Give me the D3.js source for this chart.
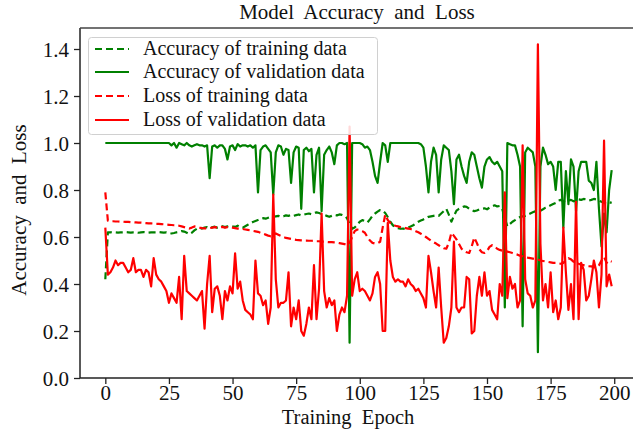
<!DOCTYPE html>
<html>
<head>
<meta charset="utf-8">
<script src="https://cdn.jsdelivr.net/npm/d3@7"></script>
<style>
    body { margin: 0; background: #ffffff; }
    svg text { font-family: "Liberation Serif", "Times New Roman", serif; white-space: pre; fill: #111; }
</style>
</head>
<body>
<svg id="chartPlot" width="633" height="430"></svg>
<script>
// values, one per epoch (0 .. 199)
const train_acc = [
    0.42, 0.62, 0.62, 0.621, 0.62, 0.619, 0.62, 0.62, 0.621, 0.62,
    0.619, 0.62, 0.62, 0.618, 0.62, 0.621, 0.62, 0.619, 0.62, 0.62,
    0.62, 0.621, 0.62, 0.619, 0.62, 0.617, 0.615, 0.617, 0.62, 0.622,
    0.625, 0.623, 0.618, 0.612, 0.618, 0.628, 0.635, 0.638, 0.636, 0.64,
    0.642, 0.638, 0.641, 0.644, 0.64, 0.643, 0.646, 0.642, 0.645, 0.648,
    0.645, 0.643, 0.648, 0.641, 0.64, 0.646, 0.652, 0.658, 0.664, 0.668,
    0.672, 0.676, 0.68, 0.678, 0.682, 0.686, 0.684, 0.688, 0.69, 0.686,
    0.688, 0.692, 0.69, 0.694, 0.69, 0.693, 0.696, 0.692, 0.695, 0.698,
    0.7, 0.697, 0.702, 0.705, 0.702, 0.698, 0.694, 0.69, 0.686, 0.69,
    0.694, 0.692, 0.696, 0.694, 0.69, 0.68, 0.655, 0.635, 0.64, 0.652,
    0.665, 0.672, 0.668, 0.662, 0.675, 0.69, 0.7, 0.708, 0.715, 0.712,
    0.702, 0.685, 0.665, 0.65, 0.642, 0.638, 0.635, 0.636, 0.634, 0.64,
    0.645, 0.65, 0.658, 0.665, 0.67, 0.675, 0.68, 0.686, 0.688, 0.69,
    0.692, 0.69, 0.7, 0.71, 0.72, 0.695, 0.665, 0.69, 0.712, 0.72,
    0.725, 0.73, 0.728, 0.72, 0.715, 0.71, 0.713, 0.718, 0.72, 0.722,
    0.718, 0.725, 0.73, 0.735, 0.73, 0.732, 0.72, 0.68, 0.645, 0.655,
    0.665, 0.672, 0.68, 0.685, 0.688, 0.69, 0.695, 0.7, 0.705, 0.71,
    0.708, 0.712, 0.718, 0.725, 0.73, 0.735, 0.74, 0.745, 0.755, 0.758,
    0.752, 0.748, 0.755, 0.758, 0.752, 0.756, 0.76, 0.758, 0.762, 0.76,
    0.755, 0.758, 0.762, 0.76, 0.755, 0.75, 0.745, 0.742, 0.748, 0.745
];
const val_acc = [
    1, 1, 1, 1, 1, 1, 1, 1, 1, 1,
    1, 1, 1, 1, 1, 1, 1, 1, 1, 1,
    1, 1, 1, 1, 1, 1, 0.99, 1, 0.98, 1,
    0.995, 0.99, 1, 0.99, 0.985, 0.99, 0.995, 0.99, 0.99, 0.985,
    0.99, 0.85, 0.985, 0.99, 0.98, 0.99, 0.99, 0.975, 0.93, 0.985,
    0.99, 0.97, 0.995, 0.985, 0.99, 0.99, 0.985, 0.99, 0.98, 0.99,
    0.79, 0.97, 0.985, 0.99, 0.975, 0.96, 0.78, 0.96, 0.99, 0.985,
    0.95, 0.975, 0.97, 0.83, 0.96, 0.985, 0.98, 0.72, 0.97, 0.98,
    0.965, 0.975, 0.79, 0.95, 0.98, 0.71, 0.95, 0.97, 0.985, 0.96,
    0.91, 0.99, 1, 1, 0.995, 1, 0.15, 1, 1, 1,
    1, 0.995, 0.98, 0.985, 0.97, 0.92, 0.86, 0.83, 0.92, 1,
    0.99, 0.92, 1, 1, 1, 1, 1, 1, 1, 1,
    1, 1, 1, 1, 0.995, 0.98, 0.9, 0.79, 0.92, 0.98,
    0.95, 0.79, 0.93, 0.99, 0.98, 0.97, 0.88, 0.74, 0.93, 0.95,
    0.9, 0.86, 0.83, 0.92, 0.96, 0.95, 0.9, 0.85, 0.81, 0.9,
    0.93, 0.94, 0.92, 0.91, 0.92, 0.9, 0.88, 0.3, 1, 0.995,
    0.99, 0.99, 0.95, 0.9, 0.22, 0.96, 0.98, 0.97, 0.96, 0.9,
    0.11, 0.9, 0.98, 0.95, 0.91, 0.92, 0.9, 0.8, 0.92, 0.92,
    0.64, 0.88, 0.74, 0.93, 0.9, 0.71, 0.88, 0.92, 0.92, 0.92,
    0.84, 0.83, 0.8, 0.92, 0.72, 0.56, 0.7, 0.62, 0.8, 0.885
];
const train_loss = [
    0.79, 0.67, 0.668, 0.667, 0.666, 0.666, 0.665, 0.665, 0.664, 0.664,
    0.663, 0.663, 0.662, 0.661, 0.661, 0.66, 0.659, 0.658, 0.658, 0.657,
    0.656, 0.656, 0.655, 0.654, 0.653, 0.652, 0.651, 0.65, 0.649, 0.648,
    0.645, 0.642, 0.638, 0.636, 0.64, 0.645, 0.643, 0.64, 0.638, 0.637,
    0.636, 0.638, 0.64, 0.642, 0.64, 0.641, 0.643, 0.64, 0.642, 0.641,
    0.64, 0.638, 0.636, 0.635, 0.634, 0.632, 0.63, 0.628, 0.626, 0.624,
    0.622, 0.618, 0.614, 0.61, 0.606, 0.603, 0.61, 0.615, 0.61, 0.605,
    0.6, 0.596, 0.594, 0.592, 0.59, 0.588, 0.587, 0.586, 0.585, 0.585,
    0.584, 0.584, 0.583, 0.582, 0.582, 0.58, 0.58, 0.579, 0.578, 0.578,
    0.577, 0.576, 0.574, 0.572, 0.57, 0.566, 0.575, 0.6, 0.625, 0.632,
    0.63, 0.625, 0.618, 0.6, 0.585, 0.575, 0.572, 0.574, 0.58, 0.64,
    0.695, 0.672, 0.66, 0.652, 0.648, 0.645, 0.642, 0.64, 0.638, 0.636,
    0.634, 0.63, 0.625, 0.62, 0.614, 0.608, 0.6, 0.592, 0.584, 0.578,
    0.572, 0.565, 0.558, 0.552, 0.55, 0.575, 0.618, 0.605, 0.59, 0.57,
    0.55, 0.54, 0.535, 0.532, 0.56, 0.598, 0.575, 0.548, 0.535, 0.532,
    0.54, 0.558, 0.565, 0.56, 0.55, 0.545, 0.542, 0.54, 0.538, 0.535,
    0.532, 0.528, 0.525, 0.52, 0.518, 0.515, 0.512, 0.51, 0.508, 0.506,
    0.504, 0.5, 0.498, 0.496, 0.494, 0.492, 0.49, 0.49, 0.488, 0.486,
    0.49, 0.5, 0.51, 0.505, 0.495, 0.49, 0.486, 0.482, 0.48, 0.478,
    0.476, 0.475, 0.472, 0.47, 0.48, 0.5, 0.515, 0.49, 0.5, 0.495
];
const val_loss = [
    0.64, 0.44, 0.45, 0.47, 0.5, 0.48, 0.49, 0.49, 0.47, 0.45,
    0.46, 0.51, 0.45, 0.46, 0.46, 0.43, 0.46, 0.45, 0.39, 0.51,
    0.44, 0.42, 0.41, 0.39, 0.37, 0.32, 0.36, 0.34, 0.32, 0.43,
    0.25, 0.52, 0.37, 0.36, 0.35, 0.34, 0.33, 0.35, 0.37, 0.21,
    0.4, 0.52, 0.28, 0.38, 0.39, 0.35, 0.25, 0.37, 0.33, 0.39,
    0.36, 0.53, 0.38, 0.41, 0.33, 0.29, 0.28, 0.27, 0.25, 0.5,
    0.36, 0.35, 0.31, 0.33, 0.23, 0.3, 0.78, 0.42, 0.3, 0.32,
    0.32, 0.33, 0.45, 0.22, 0.3, 0.25, 0.33, 0.2, 0.18, 0.23,
    0.3, 0.25, 0.48, 0.25, 0.38, 0.7, 0.37, 0.3, 0.34, 0.31,
    0.33, 0.2, 0.27, 0.3, 0.28, 0.35, 1.07, 0.35, 0.42, 0.45,
    0.37, 0.38, 0.37, 0.35, 0.33, 0.36, 0.43, 0.45, 0.4, 0.2,
    0.2, 0.66, 0.5, 0.43, 0.41, 0.42, 0.41, 0.41, 0.39, 0.42,
    0.4, 0.39, 0.37, 0.38, 0.36, 0.34, 0.3, 0.52, 0.45, 0.37,
    0.3, 0.47, 0.3, 0.15, 0.17, 0.22, 0.3, 0.58, 0.3, 0.28,
    0.3, 0.3, 0.43, 0.42, 0.19, 0.2, 0.35, 0.43, 0.35, 0.45,
    0.35, 0.37, 0.29, 0.27, 0.25, 0.4, 0.35, 0.79, 0.34, 0.43,
    0.38, 0.4, 0.3, 0.33, 0.99, 0.42, 0.36, 0.35, 0.3, 0.33,
    1.42, 0.57, 0.33, 0.4, 0.3, 0.45, 0.28, 0.33, 0.25, 0.3,
    0.64, 0.45, 0.29, 0.4, 0.25, 0.75, 0.25, 0.49, 0.46, 0.33,
    0.35, 0.42, 0.5, 0.45, 0.3, 0.44, 1.01, 0.39, 0.44, 0.39
];

const x_ticks = [0, 25, 50, 75, 100, 125, 150, 175, 200];
const y_ticks = [0.0, 0.2, 0.4, 0.6, 0.8, 1.0, 1.2, 1.4];
const series_names = [
    "Accuracy of training data",
    "Accuracy of validation data",
    "Loss of training data",
    "Loss of validation data"
];

const green_color_code = "#008000";
const red_color_code = "#ff0000";
const dash_pattern = "7,4";
const serif_font = '"Liberation Serif", "Times New Roman", serif';

const chart_svg = d3.select("#chartPlot");
const plot_left = 80;
const plot_right = 637;
const plot_top = 28;
const plot_bottom = 378;

const x = d3.scaleLinear().domain([-9.95, 208.95]).range([plot_left, plot_right]);
const y = d3.scaleLinear().domain([0, 1.4894]).range([plot_bottom, plot_top]);

const series_list = [
    { name: series_names[0], values: train_acc, color: green_color_code, dashed: true },
    { name: series_names[1], values: val_acc, color: green_color_code, dashed: false },
    { name: series_names[2], values: train_loss, color: red_color_code, dashed: true },
    { name: series_names[3], values: val_loss, color: red_color_code, dashed: false }
];

function drawAxes() {
    const x_axis = d3.axisBottom(x).tickValues(x_ticks).tickSize(6).tickPadding(3)
        .tickFormat(d3.format("d"));
    const y_axis = d3.axisLeft(y).tickValues(y_ticks).tickSize(6).tickPadding(5)
        .tickFormat(d3.format(".1f"));

    const gx = chart_svg.append("g")
        .attr("transform", `translate(0,${plot_bottom})`)
        .call(x_axis);
    const gy = chart_svg.append("g")
        .attr("transform", `translate(${plot_left},0)`)
        .call(y_axis);

    [gx, gy].forEach(function (g) {
        g.attr("font-family", serif_font).attr("font-size", 21);
        g.select(".domain").remove();
        g.selectAll(".tick line").attr("stroke", "#222").attr("stroke-width", 1.3);
        g.selectAll(".tick text").attr("fill", "#111");
    });
    gx.selectAll(".tick text").attr("dy", "0.6em");
    gy.selectAll(".tick text").attr("dy", "0.35em");

    // spines: left, bottom and top (the right one falls outside the window)
    chart_svg.append("line")
        .attr("x1", plot_left).attr("y1", plot_top)
        .attr("x2", plot_left).attr("y2", plot_bottom)
        .attr("stroke", "#222").attr("stroke-width", 1.5);
    chart_svg.append("line")
        .attr("x1", plot_left).attr("y1", plot_bottom)
        .attr("x2", plot_right).attr("y2", plot_bottom)
        .attr("stroke", "#222").attr("stroke-width", 1.5);
    chart_svg.append("line")
        .attr("x1", plot_left).attr("y1", plot_top)
        .attr("x2", plot_right).attr("y2", plot_top)
        .attr("stroke", "#444").attr("stroke-width", 1.5);
}

function drawLines() {
    const line = d3.line()
        .x((d, i) => x(i))
        .y((d) => y(d));

    for (let s_id = 0; s_id < series_list.length; s_id++) {
        let s = series_list[s_id];
        chart_svg.append("path")
            .datum(s.values)
            .attr("d", line)
            .attr("fill", "none")
            .attr("stroke", s.color)
            .attr("stroke-width", 2.2)
            .attr("stroke-linejoin", "round")
            .attr("stroke-dasharray", s.dashed ? dash_pattern : null);
    }
}

function drawLegend() {
    const legend = chart_svg.append("g");
    legend.append("rect")
        .attr("x", 88.5).attr("y", 37.5)
        .attr("width", 289).attr("height", 97)
        .attr("rx", 3)
        .attr("fill", "white").attr("fill-opacity", 0.85)
        .attr("stroke", "#d0d0d0").attr("stroke-width", 1);

    const row_y = [49, 72, 96, 120];
    for (let s_id = 0; s_id < series_list.length; s_id++) {
        let s = series_list[s_id];
        legend.append("line")
            .attr("x1", 95).attr("x2", 129)
            .attr("y1", row_y[s_id]).attr("y2", row_y[s_id])
            .attr("stroke", s.color)
            .attr("stroke-width", 2.2)
            .attr("stroke-dasharray", s.dashed ? dash_pattern : null);
        legend.append("text")
            .attr("x", 143)
            .attr("y", row_y[s_id] + 6)
            .attr("font-size", 20)
            .text(s.name);
    }
}

function drawLabels() {
    chart_svg.append("text")
        .attr("x", 357).attr("y", 19)
        .attr("text-anchor", "middle")
        .attr("font-size", 21)
        .text("Model  Accuracy  and  Loss");

    chart_svg.append("text")
        .attr("x", 348).attr("y", 424)
        .attr("text-anchor", "middle")
        .attr("font-size", 20.5)
        .text("Training  Epoch");

    chart_svg.append("text")
        .attr("transform", "translate(26,210) rotate(-90)")
        .attr("text-anchor", "middle")
        .attr("font-size", 21)
        .text("Accuracy  and  Loss");
}

drawLines();
drawAxes();
drawLegend();
drawLabels();
</script>
</body>
</html>
